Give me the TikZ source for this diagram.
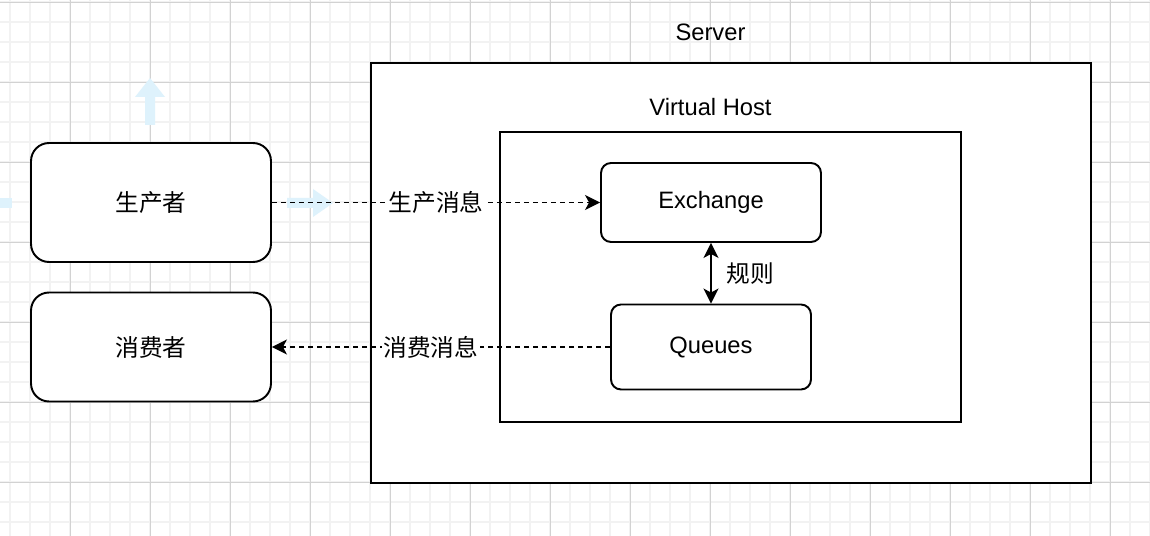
\documentclass[tikz,border=0pt]{standalone}
\usepackage{fontspec}
\setmainfont{Liberation Sans}
\newfontfamily\cjk{Noto Sans CJK SC}
\usepackage{tikz}
\usetikzlibrary{arrows.meta,positioning,calc}
\definecolor{hintblue}{RGB}{222,242,252}
\definecolor{gridminor}{RGB}{242,242,242}
\definecolor{gridmajor}{RGB}{210,210,210}
\newcommand{\txt}{\fontsize{13.5}{16}\selectfont}

\begin{document}
\begin{tikzpicture}[x=0.02cm, y=-0.02cm,
  box/.style={draw, line width=1.1pt, fill=white, rounded corners=0.36cm, font=\cjk\txt},
  frame/.style={draw, line width=1.1pt, fill=white},
  flow/.style={-{Stealth[length=0.3cm,width=0.3cm,inset=0.08cm]}, line width=1pt, dash pattern=on 0.1cm off 0.08cm},
  lbl/.style={fill=white, inner sep=1pt, font=\cjk\txt}]
\useasboundingbox (0,0) rectangle (1150,536);
\fill[white] (0,0) rectangle (1150,536);
\foreach \x in {10,30,...,1150} \draw[gridminor, line width=0.6pt] (\x,0) -- (\x,536);
\foreach \y in {2,22,...,536} \draw[gridminor, line width=0.6pt] (0,\y) -- (1150,\y);
\foreach \x in {70,150,...,1150} \draw[gridmajor, line width=0.5pt] (\x,0) -- (\x,536);
\foreach \y in {2,82,...,536} \draw[gridmajor, line width=0.5pt] (0,\y) -- (1150,\y);
\fill[hintblue] (145,125) -- (145,97) -- (135,97) -- (150,78) -- (165,97) -- (155,97) -- (155,125) -- cycle;
\fill[hintblue] (287,198) -- (313,198) -- (313,189) -- (333,203) -- (313,217) -- (313,208) -- (287,208) -- cycle;
\fill[hintblue] (0,198) rectangle (12,208);

\node[frame, minimum width=14.4cm, minimum height=8.4cm] (server) at (731,273) {};
\node[font=\txt] (serverlbl) at (710.5,32) {Server};
\node[frame, minimum width=9.22cm, minimum height=5.8cm] (vhost) at (730.5,277) {};
\node[font=\txt] (vhostlbl) at (710.5,107) {Virtual Host};

\node[box, minimum width=4.8cm, minimum height=2.38cm] (producer) at (151,202.5) {生产者};
\node[box, minimum width=4.8cm, minimum height=2.18cm] (consumer) at (151,347) {消费者};
\node[box, font=\txt, rounded corners=0.2cm, minimum width=4.4cm, minimum height=1.58cm] (exchange) at (711,202.5) {Exchange};
\node[box, font=\txt, rounded corners=0.2cm, minimum width=4cm, minimum height=1.7cm] (queues) at (711,347) {Queues};

\draw[flow] (producer.east) -- node[lbl] {生产消息} (exchange.west);
\draw[flow] (queues.west) -- node[lbl, pos=0.53] {消费消息} (consumer.east);
\draw[{Stealth[length=0.3cm,width=0.3cm,inset=0.08cm]}-{Stealth[length=0.3cm,width=0.3cm,inset=0.08cm]}, line width=1pt] (exchange.south) -- node[lbl, right=0.26cm] {规则} (queues.north);
\end{tikzpicture}
\end{document}
